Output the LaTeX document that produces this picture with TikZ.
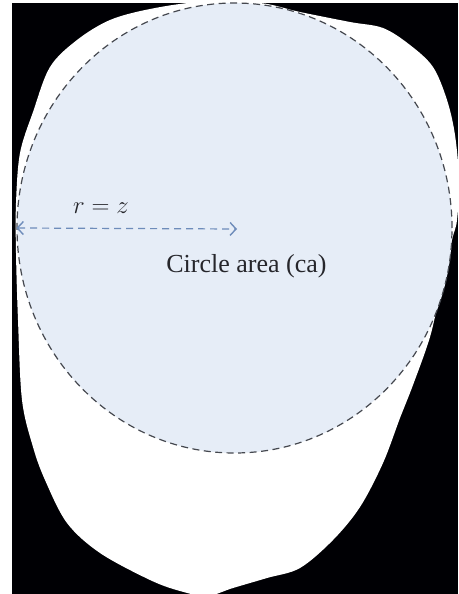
\documentclass[tikz,border=0pt]{standalone}
\usepackage{fontspec}
\newfontfamily\capfont{Liberation Serif}
\usetikzlibrary{arrows.meta,shapes.geometric}
\definecolor{cafill}{HTML}{E6EDF7}
\definecolor{dashgray}{HTML}{45484F}
\definecolor{arrowblue}{HTML}{6E8CBA}
\definecolor{txt}{HTML}{26262B}
\tikzset{
  circ/.style={ellipse, draw=dashgray, fill=cafill, line width=1.2pt, dash pattern=on 7pt off 4.5pt, minimum width=435pt, minimum height=450pt, inner sep=0pt},
  radius arrow/.style={draw=arrowblue, line width=1.2pt, dash pattern=on 7pt off 5pt, {Straight Barb[length=6pt,width=13pt,line width=1.4pt]}-{Straight Barb[length=6pt,width=13pt,line width=1.4pt]}},
  mathlabel/.style={text=txt, font=\fontsize{24}{28}\selectfont, inner sep=0pt, anchor=base},
  textlabel/.style={text=txt, font=\capfont\fontsize{26}{30}\selectfont, inner sep=0pt, anchor=base}
}
\begin{document}
\begin{tikzpicture}[x=1pt,y=-1pt]
\useasboundingbox (0,0) rectangle (458,594);
\fill[white] (0,0) rectangle (458,594);
\fill[black!95!blue!30!black] (12,3) rectangle (458,594);
\begin{scope}
\clip (12,3) rectangle (458,594);
\fill[white] plot[smooth cycle, tension=0.55] coordinates {
(200,2) (260,3) (300,12) (350,22) (383,28) (410,45) (433,67) (447,100) (455,135) (459,180) (457,220) (452,240) (440,293) (430,337) (413,385) (400,418) (383,463) (360,507) (333,540) (300,568) (267,578) (233,588) (207,596) (180,591) (150,580) (100,553) (67,523) (45,480) (33,447) (22,400) (18,320) (16,253) (16,203) (20,153) (33,112) (50,67) (77,40) (110,20) (150,9)};
\end{scope}
\node[circ] (ca) at (234.5,228) {};
\coordinate (mid) at (237,229);
\draw[radius arrow] (ca.west) -- (mid);
\node[mathlabel] (r) at (101,213) {$r = z$};
\node[textlabel] (cal) at (246.5,272) {Circle area (ca)};
\end{tikzpicture}
\end{document}
